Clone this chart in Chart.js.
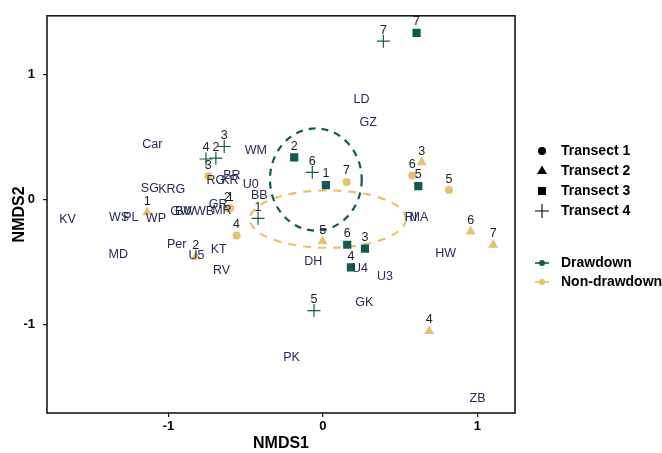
<!DOCTYPE html>
<html>
<head>
<meta charset="utf-8">
<script src="https://cdn.jsdelivr.net/npm/chart.js@4.4.1/dist/chart.umd.min.js"></script>
<style>
  html, body { margin: 0; padding: 0; background: #fff; }
  #wrap { position: relative; width: 662px; height: 453px; overflow: hidden; }
  #c { position: absolute; left: 0; top: 0; }
  .leg { position: absolute; left: 530px; height: 18px; line-height: 18px; white-space: nowrap;
         font: bold 14px "Liberation Sans", Arial, sans-serif; color: #000; }
  .leg svg { position: absolute; left: 0; top: 0; }
  .leg span { position: absolute; left: 31px; top: 0; }
</style>
</head>
<body>
<div id="wrap">
  <canvas id="c" width="662" height="453" style="width:662px;height:453px"></canvas>
  <div id="legend"></div>
</div>
<script>
/* NMDS-ordination: prøver (transekt x site) + artsnavne, to grupper med ellipser. */

// ---------- data ----------
const xTicks = [-1, 0, 1];
const yTicks = [-1, 0, 1];
const xMin = -1.786, xMax = 1.243;
const yMin = -1.705, yMax = 1.468;

// drawdown-prøver (transekt 3 og 4)
const ddX = [0.606, 0.391, -0.186, -0.069, 0.019, 0.617, -0.639, -0.693, -0.757, -0.42, 0.157, 0.272, 0.181, -0.058];
const ddY = [1.331, 1.265, 0.337, 0.218, 0.116, 0.108, 0.424, 0.331, 0.324, -0.15, -0.361, -0.392, -0.542, -0.887];
const ddTransect = [3, 4, 3, 4, 3, 3, 4, 4, 4, 4, 3, 3, 3, 4];
const ddSite = ['7', '7', '2', '6', '1', '5', '3', '2', '4', '1', '6', '3', '4', '5'];

// non-drawdown-prøver (transekt 1 og 2)
const ndX = [0.153, 0.578, 0.816, -0.559, -0.742, -0.62, -0.60, 0.639, 0.956, 1.102, 0.688, -0.002, -1.137, -0.824];
const ndY = [0.140, 0.192, 0.076, -0.287, 0.187, -0.07, -0.07, 0.297, -0.255, -0.361, -1.050, -0.334, -0.103, -0.458];
const ndTransect = [1, 1, 1, 1, 1, 1, 1, 2, 2, 2, 2, 2, 2, 2];
const ndSite = ['7', '6', '5', '4', '3', '2', '1', '3', '6', '7', '4', '5', '1', '2'];

// artsscorer
const speciesNames = ['Car', 'WM', 'LD', 'GZ', 'SG', 'KRG', 'RG', 'KR', 'BR', 'U0', 'BB', 'GR', 'GW', 'BW', 'WB', 'MR',
  'WS', 'PL', 'WP', 'KV', 'MD', 'Per', 'U5', 'KT', 'RV', 'DH', 'U4', 'U3', 'GK', 'PK', 'ZB', 'HW', 'RI', 'MA'];
const speciesX = [-1.105, -0.434, 0.250, 0.293, -1.120, -0.979, -0.693, -0.602, -0.589, -0.468, -0.412, -0.678, -0.919, -0.893, -0.770, -0.654,
  -1.320, -1.243, -1.081, -1.653, -1.325, -0.947, -0.818, -0.675, -0.656, -0.063, 0.239, 0.401, 0.267, -0.203, 1.001, 0.794, 0.570, 0.621];
const speciesY = [0.442, 0.392, 0.800, 0.613, 0.089, 0.081, 0.150, 0.150, 0.192, 0.121, 0.034, -0.037, -0.095, -0.095, -0.095, -0.091,
  -0.142, -0.142, -0.150, -0.163, -0.440, -0.361, -0.450, -0.400, -0.571, -0.497, -0.555, -0.616, -0.821, -1.265, -1.589, -0.432, -0.142, -0.142];

// ellipser: drawdown, non-drawdown
const ellipseCx = [-0.046, 0.032];
const ellipseCy = [0.160, -0.156];
const ellipseRx = [0.297, 0.505];
const ellipseRy = [0.408, 0.229];

// ---------- stil ----------
const TEAL = '#0f5b4f';
const GOLD = '#e8c26a';
const FONT = '"Liberation Sans", Arial, sans-serif';
const STYLE = {1: 'circle', 2: 'triangle', 3: 'rect', 4: 'cross'};
const RADIUS = {1: 4, 2: 5.8, 3: 5.8, 4: 6.5};

const pts = (xs, ys) => xs.map((x, i) => ({x, y: ys[i]}));

function groupDataset(label, xs, ys, tr, color) {
  return {
    label,
    data: pts(xs, ys),
    pointStyle: tr.map((t) => STYLE[t]),
    pointRadius: tr.map((t) => RADIUS[t]),
    pointBackgroundColor: color,
    pointBorderColor: color,
    pointBorderWidth: tr.map((t) => (t === 4 ? 1.2 : 0)),
    showLine: false,
  };
}

const ellipsePlugin = {
  id: 'ellipses',
  beforeDatasetsDraw(chart) {
    const {ctx, scales: {x, y}} = chart;
    const colors = [TEAL, GOLD];
    ellipseCx.forEach((cx, i) => {
      const px = x.getPixelForValue(cx);
      const py = y.getPixelForValue(ellipseCy[i]);
      const rx = Math.abs(x.getPixelForValue(cx + ellipseRx[i]) - px);
      const ry = Math.abs(y.getPixelForValue(ellipseCy[i] + ellipseRy[i]) - py);
      ctx.save();
      ctx.beginPath();
      ctx.ellipse(px, py, rx, ry, 0, 0, Math.PI * 2);
      ctx.setLineDash(i === 0 ? [7, 6] : [8, 7]);
      ctx.lineWidth = 2.2;
      ctx.strokeStyle = colors[i];
      ctx.stroke();
      ctx.restore();
    });
  },
};

const labelPlugin = {
  id: 'labels',
  afterDatasetsDraw(chart) {
    const {ctx, scales: {x, y}, chartArea: a} = chart;
    ctx.save();
    ctx.textAlign = 'center';
    ctx.textBaseline = 'middle';
    // site-numre over punkterne
    ctx.font = '12.5px ' + FONT;
    ctx.fillStyle = '#1c1c1c';
    [ddSite, ndSite].forEach((sites, di) => {
      chart.getDatasetMeta(di).data.forEach((el, i) => ctx.fillText(sites[i], el.x, el.y - 11));
    });
    // artsnavne
    ctx.font = '12.5px ' + FONT;
    ctx.fillStyle = '#262a57';
    speciesNames.forEach((s, i) =>
      ctx.fillText(s, x.getPixelForValue(speciesX[i]), y.getPixelForValue(speciesY[i])));
    // panelramme
    ctx.strokeStyle = '#1a1a1a';
    ctx.lineWidth = 1.6;
    ctx.strokeRect(a.left, a.top, a.right - a.left, a.bottom - a.top);
    ctx.restore();
  },
};

const axisCommon = {
  type: 'linear',
  grid: {drawOnChartArea: false, drawTicks: true, tickLength: 4, color: '#1a1a1a', lineWidth: 1.2},
  border: {display: false},
  ticks: {font: {family: FONT, size: 13, weight: 'bold'}, color: '#000', callback: (v) => String(v)},
};

new Chart(document.getElementById('c'), {
  type: 'scatter',
  data: {
    datasets: [
      groupDataset('Drawdown', ddX, ddY, ddTransect, TEAL),
      groupDataset('Non-drawdown', ndX, ndY, ndTransect, GOLD),
    ],
  },
  options: {
    responsive: false,
    animation: false,
    events: [],
    layout: {padding: {left: 0, top: 11, right: 147, bottom: 0}},
    plugins: {legend: {display: false}, tooltip: {enabled: false}},
    scales: {
      x: {
        ...axisCommon,
        min: xMin, max: xMax,
        afterBuildTicks: (s) => { s.ticks = xTicks.map((v) => ({value: v})); },
        afterFit: (s) => { s.height = 40; },
        ticks: {...axisCommon.ticks, padding: 2},
        title: {display: true, text: 'NMDS1', color: '#000', font: {family: FONT, size: 16, weight: 'bold'}, padding: {top: 0, bottom: 0}},
      },
      y: {
        ...axisCommon,
        min: yMin, max: yMax,
        afterBuildTicks: (s) => { s.ticks = yTicks.map((v) => ({value: v})); },
        afterFit: (s) => { s.width = 47; },
        ticks: {...axisCommon.ticks, padding: 8},
        title: {display: true, text: 'NMDS2', color: '#000', font: {family: FONT, size: 16, weight: 'bold'}, padding: {top: 10, bottom: 0}},
      },
    },
  },
  plugins: [ellipsePlugin, labelPlugin],
});

// ---------- legende ----------
const legendRows = [
  [151, '<circle cx="12" cy="9" r="4" fill="#000"/>', 'Transect 1'],
  [171, '<polygon points="12,3.5 17,12 7,12" fill="#000"/>', 'Transect 2'],
  [191, '<rect x="8" y="5" width="8" height="8" fill="#000"/>', 'Transect 3'],
  [211, '<path d="M5 9H19M12 2V16" stroke="#000" stroke-width="1.1"/>', 'Transect 4'],
  [263, `<path d="M5 9H19" stroke="${TEAL}" stroke-width="1.6"/><circle cx="12" cy="9" r="3" fill="${TEAL}"/>`, 'Drawdown'],
  [282, `<path d="M5 9H19" stroke="${GOLD}" stroke-width="1.6"/><circle cx="12" cy="9" r="3" fill="${GOLD}"/>`, 'Non-drawdown'],
];
document.getElementById('legend').innerHTML = legendRows.map(([y, icon, text]) => `
  <div class="leg" style="top:${y - 9}px">
    <svg width="24" height="18" viewBox="0 0 24 18">${icon}</svg><span>${text}</span>
  </div>`).join('');
</script>
</body>
</html>
